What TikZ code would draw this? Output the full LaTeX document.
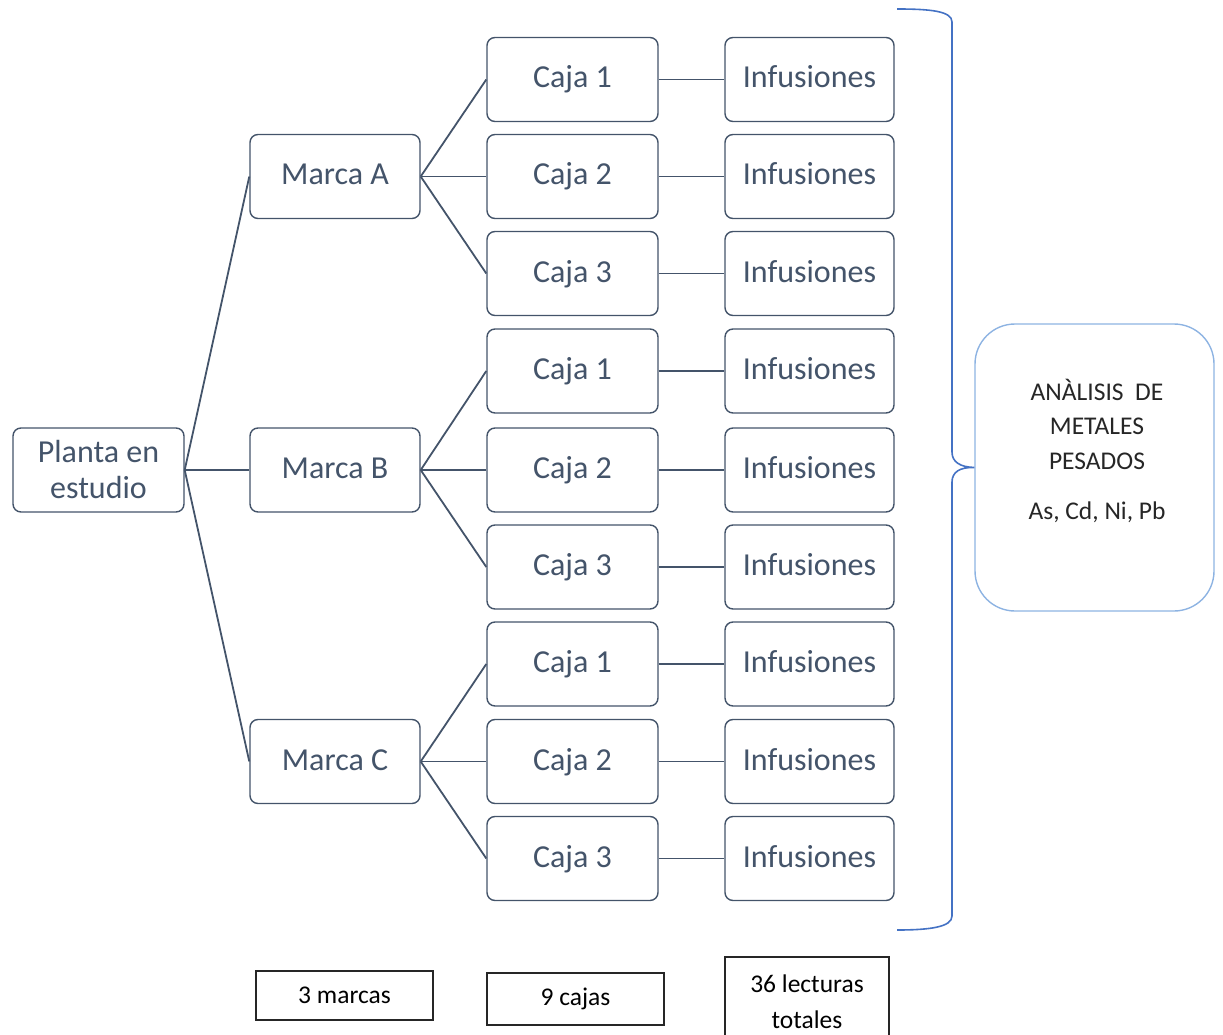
\documentclass[tikz,border=0pt]{standalone}
\usepackage{fontspec}
\setmainfont{Carlito}
\definecolor{slate}{HTML}{44546A}
\definecolor{bracec}{HTML}{4472C4}
\definecolor{boxblue}{HTML}{8DB3E2}
\begin{document}
\begin{tikzpicture}[x=1pt,y=-1pt,
  tree/.style={draw=slate, line width=1.4pt, rounded corners=8pt, fill=white,
    text=slate, font=\fontsize{32}{36}\selectfont, align=center,
    minimum width=171pt, minimum height=84pt, inner sep=0pt},
  oneline/.style={tree, text height=23pt, text depth=6pt},
  link/.style={draw=slate, line width=1.8pt},
  tally/.style={draw=black!85, line width=1.2pt, fill=white,
    font=\fontsize{25.5}{36}\selectfont, align=center, inner sep=0pt}]
\useasboundingbox (0,0) rectangle (1223,1035);

% root and brands
\node[tree] (root) at (98.5,470) {Planta en\\estudio};
\node[oneline, minimum width=170pt] (mA) at (335,176.5) {Marca A};
\node[oneline, minimum width=170pt] (mB) at (335,470) {Marca B};
\node[oneline, minimum width=170pt] (mC) at (335,761.5) {Marca C};

% boxes and infusions
\foreach \b/\ys in {A/{79.5,176.5,273.5}, B/{371,470,567}, C/{664,761.5,858.5}}{
  \foreach \y [count=\i] in \ys {
    \node[oneline] (c\b\i) at (572.5,\y) {Caja \i};
    \node[oneline, minimum width=169pt] (f\b\i) at (809.5,\y) {Infusiones};
  }
}

% connectors
\foreach \b in {A,B,C}{
  \draw[link] (root.east) -- (m\b.west);
  \foreach \i in {1,2,3}{
    \draw[link] (m\b.east) -- (c\b\i.west);
    \draw[link] (c\b\i.east) -- (f\b\i.west);
  }
}

% analysis box
\node[draw=boxblue, line width=1.4pt, rounded corners=40pt,
  minimum width=239pt, minimum height=287pt, inner sep=0pt] (ana) at (1094.5,467.5) {};
\node[text=black!85, font=\fontsize{25.5}{34.5}\selectfont, align=center]
  (anatxt) at (1097,424) {AN\`ALISIS~ DE\\METALES\\PESADOS};
\node[text=black!85, font=\fontsize{25.5}{30}\selectfont]
  (metals) at (1097,512) {As, Cd, Ni, Pb};

% curly brace
\coordinate (btop) at (897,9);
\coordinate (bbot) at (897,930);
\draw[draw=bracec, line width=1.6pt]
  (btop) .. controls (930,9) and (952,11) .. (952,22)
  -- (952,452) .. controls (952,462) and (960,467) .. (ana.west)
  .. controls (960,467) and (952,472) .. (952,482)
  -- (952,916) .. controls (952,927) and (930,930) .. (bbot);

% totals
\node[tally, minimum width=177pt, minimum height=49pt] (t1) at (344.5,995.5) {3 marcas};
\node[tally, minimum width=177pt, minimum height=52pt] (t2) at (575.5,999) {9 cajas};
\node[tally, minimum width=164pt, minimum height=90pt] (t3) at (807,1002) {36 lecturas\\totales};
\end{tikzpicture}
\end{document}
